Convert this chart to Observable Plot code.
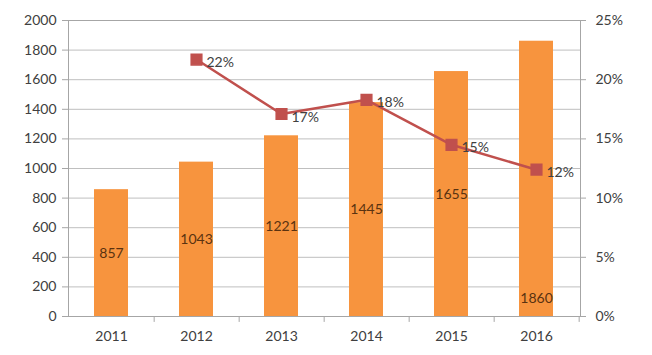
<!DOCTYPE html>
<html><head><meta charset="utf-8">
<script src="https://cdn.jsdelivr.net/npm/d3@7"></script>
<script src="https://cdn.jsdelivr.net/npm/@observablehq/plot@0.6"></script>
<style>body{margin:0;background:#fff}</style>
</head><body><div id="chart"></div>
<script>
const years = ["2011","2012","2013","2014","2015","2016"];
const revenue = [857,1043,1221,1445,1655,1860];
const growthYears = ["2012","2013","2014","2015","2016"];
const growth = [21.7,17.1,18.3,14.5,12.4];
const growthLabels = ["22%","17%","18%","15%","12%"];
const leftTicks = [0,200,400,600,800,1000,1200,1400,1600,1800,2000];
const rightTicks = [0,5,10,15,20,25];

const k = 2000 / 25; // percent -> left-axis units
const bars = years.map((y,i) => ({year:y, value:revenue[i], last: i === years.length-1}));
const line = growthYears.map((y,i) => ({year:y, pct:growth[i], label:growthLabels[i]}));

const W = 652, H = 355, mL = 68, mR = 72;
const step = (W - mL - mR) / years.length;
const font = "Lato, 'Open Sans', sans-serif";

const chart = Plot.plot({
  width: W, height: H,
  marginLeft: mL, marginRight: mR, marginTop: 20, marginBottom: 39,
  style: {fontFamily: font, fontSize: "14px", color: "#404040", background: "#fff"},
  x: {domain: years, paddingInner: 0.6, paddingOuter: 0.3, label: null},
  y: {domain: [0, 2000], label: null},
  marks: [
    Plot.gridY(leftTicks, {stroke: "#bfbfbf", strokeOpacity: 1}),
    Plot.frame({stroke: "#a6a6a6"}),
    Plot.axisY(leftTicks, {anchor: "left", tickSize: 6, tickPadding: 6, stroke: "#a6a6a6", fill: "#404040", tickFormat: d => String(d), label: null}),
    Plot.axisY(rightTicks.map(t => t * k), {anchor: "right", tickSize: 5, tickPadding: 10, stroke: "#a6a6a6", fill: "#404040", tickFormat: d => (d / k) + "%", label: null}),
    Plot.axisX({tickSize: 0, tickPadding: 15, fill: "#404040", label: null}),
    Plot.ruleX(years, {x: d => d, dx: step / 2, y1: 0, y2: -40, stroke: "#a6a6a6"}),
    Plot.barY(bars, {x: "year", y: "value", fill: "#f7943e"}),
    Plot.text(bars.filter(d => !d.last), {x: "year", y: d => d.value / 2, text: d => String(d.value), fill: "#5a3210", fontSize: 14}),
    Plot.text(bars.filter(d => d.last), {x: "year", y: 0, dy: -18, text: d => String(d.value), fill: "#5a3210", fontSize: 14}),
    Plot.lineY(line, {x: "year", y: d => d.pct * k, stroke: "#c0504d", strokeWidth: 2.5}),
    Plot.dot(line, {x: "year", y: d => d.pct * k, symbol: "square", r: 6, fill: "#c0504d", stroke: "#c0504d"}),
    Plot.text(line, {x: "year", y: d => d.pct * k, text: "label", dx: 10, dy: 3, textAnchor: "start", fill: "#404040", fontSize: 14})
  ]
});
document.getElementById("chart").append(chart);
</script>
</body></html>
